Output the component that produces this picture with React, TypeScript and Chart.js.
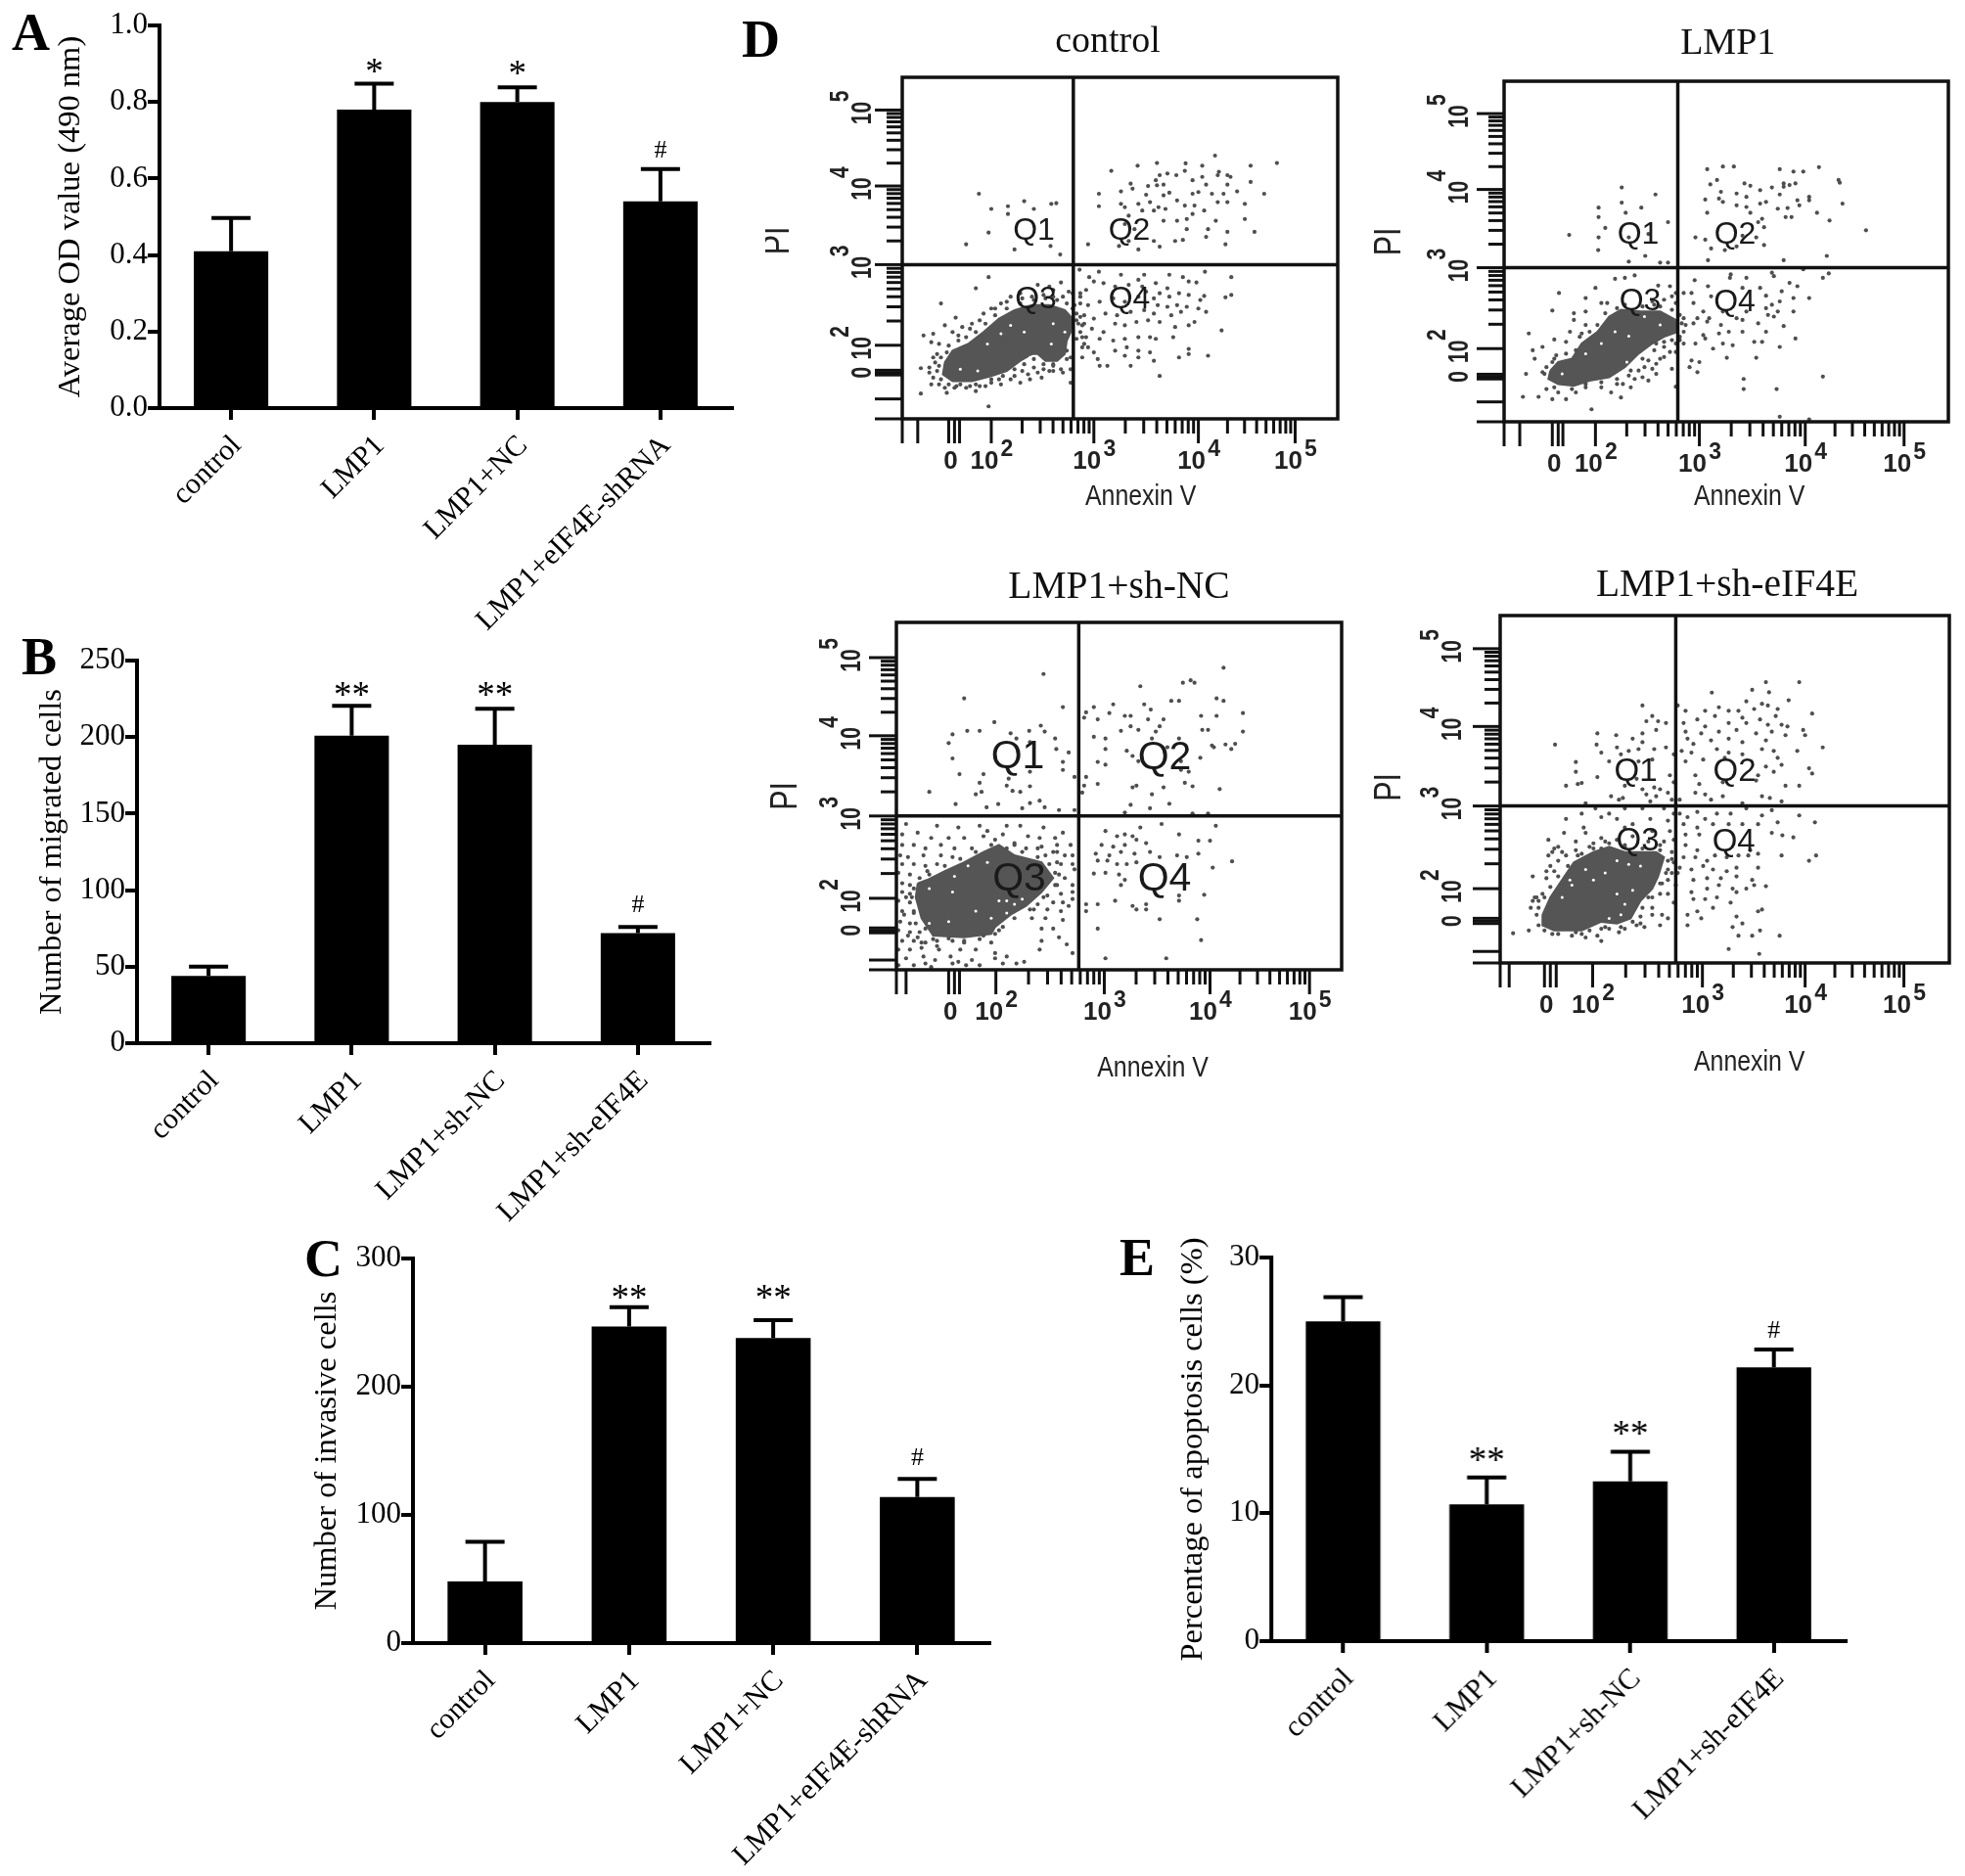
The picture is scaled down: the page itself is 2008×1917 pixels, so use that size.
import React, { useEffect, useRef } from "react";
import { Chart, registerables } from "chart.js";

Chart.register(...registerables);

const SERIF = "'Liberation Serif', serif";
const SANS = "'Liberation Sans', sans-serif";

// ---------- bar panels ----------
const labelsNC = ["control", "LMP1", "LMP1+NC", "LMP1+eIF4E-shRNA"];
const labelsSh = ["control", "LMP1", "LMP1+sh-NC", "LMP1+sh-eIF4E"];

const odValues = [0.41, 0.78, 0.8, 0.54];
const odErrTops = [0.497, 0.848, 0.838, 0.625];
const odMarks = ["", "*", "*", "#"];

const migratedValues = [44, 201, 195, 72];
const migratedErrTops = [50, 220.5, 218.5, 76];
const migratedMarks = ["", "**", "**", "#"];

const invasiveValues = [48, 247, 238, 114];
const invasiveErrTops = [79, 262, 252, 128];
const invasiveMarks = ["", "**", "**", "#"];

const apoptosisValues = [25, 10.7, 12.5, 21.4];
const apoptosisErrTops = [26.9, 12.8, 14.8, 22.8];
const apoptosisMarks = ["", "**", "**", "#"];

// ---------- flow panels: dots read in display channels of each plot ----------
const d1Sparse = [
  608,575,640,620,683,612,683,635,725,597,750,620,795,605,808,603,633,690,575,725,700,740,793,730,818,755,
  950,507,1018,492,1068,484,1142,485,1185,492,1218,462,1310,492,1378,484,1228,510,1250,520,1258,525,1225,520,1140,507,1118,520,1095,515,1075,520,1065,535,1160,535,1185,525,1310,540,1000,545,1045,552,1068,550,1085,548,1195,548,1250,548,1345,575,918,575,975,568,1005,560,1040,578,1085,580,1100,572,1160,575,1175,570,1210,575,1240,575,1275,568,918,612,975,605,985,615,1020,605,1050,600,1072,615,1090,620,1120,595,1140,610,1165,610,1190,625,1225,600,1250,600,1295,605,995,640,1030,625,1060,625,1085,655,1120,655,1145,650,1160,635,1220,655,1295,650,985,665,1010,680,1145,680,1200,680,1250,688,1320,688,1195,703,890,725,970,730,995,715,1020,740,1075,732,1115,715,1135,712,1245,725,1060,715,
  868,800,918,806,893,822,975,815,1035,815,1100,815,1135,822,1192,806,1260,822,1020,830,1065,840,1150,835,1170,838,1245,882,1260,875,1190,878,1150,875,1095,855,1100,880,1060,885,870,870,885,860,905,835,930,840,960,850,995,845,1030,850,1040,865,1075,870,1125,870,1180,890,870,900,890,905,920,895,955,885,985,895,1020,880,1070,905,1095,910,1120,905,1145,910,1175,915,880,935,905,945,935,930,965,935,1000,925,1035,920,1060,930,1105,935,1130,925,1165,955,1195,925,875,965,900,975,930,985,960,960,985,965,1015,955,1045,950,1075,955,1115,970,1150,965,1235,980,885,1000,920,1005,955,1010,985,1005,1020,1000,1050,1000,1065,1005,1110,1000,875,1030,905,1045,960,1040,990,1030,1020,1040,1050,1045,1125,1060,1150,1035,1150,1050,1200,1055,915,1065,920,1085,940,1085,985,1055,1000,1085,1020,1060,1060,1070,1075,1115,875,1060,
  510,900,465,995,490,990,485,1015,520,965,548,942,600,855,633,822,540,985,565,970,590,960,620,930,640,915,665,900,690,880,720,885,760,845,790,850,820,838,840,865,505,1020,500,1050,490,1060,458,1092,480,1105,485,1140,458,1167,525,1165,600,1160,633,1205,520,1150,550,1145,575,1150,610,1145,640,1135,660,1125,690,1125,715,1135,740,1125,770,1120,790,1100,820,1095,845,1135,845,1095,720,1100,750,1090,775,1095,800,1085,845,1060,860,1005,870,985,865,960,860,930,855,905,880,1020,800,880,825,880,
];
const d1Rim = [530,1025,555,1010,575,1000,600,985,625,960,650,935,680,915,715,900,750,890,780,885,810,890,835,900,850,915,525,1045,510,1060,505,1085,500,1100,510,1125,530,1140,560,1140,600,1140,640,1125,670,1115,700,1095,725,1080,750,1065,775,1080,800,1080,835,1065,835,1040,860,950,870,940,880,960,875,1000,890,1030,850,870,870,880,800,860,775,875,745,880,715,870,680,895,650,915,610,950,585,975,555,995,495,1075,480,1090,490,1120,505,1140,545,1150,585,1145,625,1145,665,1140,700,1115,735,1110,760,1105,800,1100,825,1105];
const d1Core = [520,1075,540,1040,580,1020,620,985,660,945,700,920,745,905,790,905,830,920,850,945,845,985,835,1010,830,1050,810,1070,780,1070,760,1050,745,1050,715,1070,680,1100,640,1115,590,1130,540,1130,515,1110,520,1075];
const d1Gaps = [630,1020,665,990,690,965,725,985,800,960,830,985,795,1020,740,1060,560,1095,605,1100];

const d2Sparse = [
  692,557,778,578,633,617,692,602,742,617,702,632,633,645,810,660,650,677,558,698,633,705,710,705,760,695,632,743,710,777,752,760,790,780,810,780,
  910,503,950,495,978,495,1095,503,1130,510,1155,510,1195,497,1245,535,1248,543,935,535,918,548,1005,545,1020,552,1045,565,1075,557,1105,545,1105,555,1135,545,1120,550,945,570,985,575,1010,585,940,590,905,593,950,600,985,610,1010,615,1045,605,1060,600,1095,578,1140,595,1170,585,1170,595,1255,605,1145,610,1090,620,1115,618,1110,645,1125,645,1190,632,1222,655,1020,632,1050,650,1040,660,1055,675,1315,684,910,632,880,705,905,712,1000,700,1035,705,1055,728,920,738,955,743,985,732,912,773,1215,760,1105,773,
  878,832,912,850,970,815,968,825,1010,825,1075,810,1080,820,1155,800,1205,825,1220,812,1120,840,1140,850,1000,855,1045,855,870,870,850,870,920,880,1060,878,1100,865,1130,885,1170,885,1095,895,1075,905,1130,925,1060,915,1090,925,875,900,900,925,885,945,915,945,950,925,985,945,1010,925,1065,935,1080,940,875,960,910,955,945,965,1000,950,1040,960,1105,968,900,995,940,990,965,985,1000,985,1060,985,1135,1005,905,1005,925,1035,950,1020,975,1025,1030,1015,1050,1015,1095,1030,960,1062,1035,1062,880,1020,850,1020,870,1070,890,1075,865,1090,885,1105,1003,1125,1003,1155,1087,1155,1205,1118,1095,1237,1170,1245,
  532,870,625,855,600,885,655,900,700,825,725,818,675,828,785,848,815,850,830,870,775,905,515,922,570,930,600,925,640,900,570,950,600,965,520,1008,455,990,490,1030,465,1040,470,1065,560,985,550,1015,590,990,448,1110,490,1105,515,1075,440,1178,480,1178,515,1185,550,1185,615,1215,500,1155,530,1165,575,1165,600,1150,640,1150,665,1165,690,1180,715,1150,725,1125,695,1140,760,1130,745,1120,780,1110,800,1060,830,1045,790,1065,760,1070,750,1090,820,1095,830,1148,780,1020,800,1030,840,1000,
];
const d2Rim = [525,1055,550,1050,575,1040,585,1000,610,985,630,965,650,930,680,915,700,905,745,910,790,910,820,920,840,935,845,960,850,985,840,1010,820,1010,800,1015,775,1040,745,1065,715,1100,680,1125,640,1135,600,1140,565,1155,520,1150,495,1110,500,1090,520,1065,820,880,800,890,770,895,830,900,850,945,855,965,830,1020,815,1045,780,1080,770,1095,735,1100,710,1115,680,1140];
const d2Core = [510,1100,530,1075,565,1065,590,1020,630,985,660,940,690,920,740,925,790,925,830,950,835,985,800,1000,770,1020,735,1050,700,1090,660,1120,610,1130,570,1145,530,1140,505,1125,510,1100];
const d2Gaps = [540,1110,600,1050,640,1020,675,985,710,998,750,940,790,965,705,1075];

const d3Sparse = [
  775,360,570,430,825,455,648,498,768,508,540,533,578,523,610,523,690,530,738,523,778,525,530,558,705,545,740,555,805,545,808,575,840,585,540,602,825,612,825,635,558,647,620,647,740,640,610,672,685,660,680,680,740,682,480,698,600,705,615,698,695,695,715,698,548,733,628,742,658,733,720,745,740,730,765,723,778,742,815,750,855,655,855,750,
  1240,342,1025,395,1135,385,1155,378,1165,385,1105,437,1125,437,1222,430,1240,437,955,447,1035,447,905,455,1052,462,885,470,880,485,945,472,985,480,1000,480,1045,490,1085,490,1290,472,915,490,1182,480,1222,480,1075,510,1000,510,975,523,1020,520,1290,525,905,540,935,545,1065,525,1185,520,1200,520,1125,545,1055,545,1270,560,1245,562,1260,575,1215,570,935,575,990,580,1005,595,1095,570,1180,600,1210,565,915,612,935,620,1020,610,1060,630,1130,610,1150,640,1130,635,885,655,880,680,915,675,1005,685,1015,680,1055,705,1085,685,1140,672,1160,682,1230,690,1000,735,1050,745,1100,732,985,757,1160,760,1200,760,875,700,
  935,810,965,825,985,820,1005,825,1025,800,1080,790,1125,820,1220,795,925,850,955,855,985,850,1015,835,1040,845,1175,838,1205,838,1175,875,910,875,945,880,975,870,1010,875,1050,870,1075,885,1120,880,1145,885,915,895,940,895,965,905,990,905,1015,900,1262,897,1212,915,905,932,935,930,970,935,985,950,975,965,1125,995,1190,993,885,1020,915,1020,960,1010,1005,1025,1040,1020,1040,1035,1015,1035,1125,1010,885,1040,915,1090,1075,1063,1172,1063,1182,1123,935,1175,1092,1175,
  420,790,500,795,555,800,610,795,630,810,680,795,715,795,775,800,410,820,450,815,485,830,530,830,570,830,620,825,670,820,735,825,765,830,805,830,825,815,410,850,440,850,470,860,510,850,545,860,590,860,700,850,730,860,770,855,810,850,845,850,405,880,425,885,465,880,510,880,540,885,780,880,810,870,850,880,410,905,440,905,470,910,500,905,810,900,850,905,400,930,430,935,475,925,805,930,830,945,855,920,410,960,430,965,810,965,850,965,410,985,430,990,785,995,820,990,850,985,400,1010,430,1015,760,1020,800,1015,825,1015,850,1005,410,1040,440,1045,750,1035,785,1035,820,1040,840,1025,405,1070,430,1075,470,1090,745,1060,780,1060,825,1065,400,1095,430,1100,500,1125,540,1125,620,1110,660,1095,770,1090,800,1090,410,1125,440,1125,470,1130,570,1130,640,1130,770,1125,815,1115,400,1150,430,1150,460,1145,505,1150,560,1150,600,1150,650,1160,680,1170,765,1150,835,1135,420,1175,465,1170,495,1180,535,1170,555,1185,590,1180,650,1175,725,1185,850,1160,400,1195,440,1195,470,1190,485,1200,540,1190,575,1195,610,1195,670,1190,705,1190,
];
const d3Rim = [440,975,435,1000,440,1040,445,1075,455,1100,490,1120,530,1118,570,1125,610,1120,650,1105,670,1085,700,1060,740,1035,775,1000,805,965,815,935,790,905,760,885,720,870,680,860,640,850,600,870,560,890,520,910,480,935,455,945,420,1000,415,1050,425,1110,450,1115,460,1130,500,1140,820,905,830,880,800,870,760,860,700,845,650,835];
const d3Core = [450,960,475,950,520,925,570,900,620,870,660,850,700,880,770,900,800,945,770,985,730,1025,690,1050,650,1085,640,1105,570,1115,490,1110,460,1060,445,1000,450,960];
const d3Gaps = [545,940,580,910,540,985,630,900,480,975,660,1010,680,1010,700,1020,720,1005,680,1045,640,1060,530,1070,480,1075,600,1040];

const d4Sparse = [
  522,562,745,450,770,480,755,495,785,495,805,500,630,530,678,535,720,545,745,530,780,520,628,562,745,555,680,570,710,580,735,575,775,575,805,570,640,585,660,610,690,590,575,612,735,610,770,605,825,590,575,640,580,675,550,680,590,672,630,655,700,680,730,660,745,690,775,685,790,690,815,650,825,670,665,710,685,720,695,715,755,705,780,710,810,700,820,720,765,725,
  1060,383,1145,383,922,413,1025,405,1068,412,1118,435,835,450,1010,438,1050,445,1065,450,940,455,905,465,965,465,990,465,1030,460,1090,460,855,465,885,490,930,480,1000,485,1045,490,1085,480,1178,473,850,500,905,510,965,500,1010,500,1065,505,1100,505,1115,510,855,525,860,545,895,530,940,525,985,520,1035,530,1075,525,1155,520,1160,535,875,560,920,550,965,545,1000,555,1060,550,1110,535,1205,570,845,580,870,585,935,575,965,585,1000,590,1050,575,1080,580,1140,580,855,610,900,605,955,600,1090,600,1100,620,1170,630,1178,645,880,650,1060,625,1040,650,1080,640,890,675,950,670,1035,665,1110,680,1145,680,905,705,950,710,1050,710,1070,715,880,700,1000,730,1100,725,840,720,920,720,
  840,760,860,770,885,755,905,775,935,760,970,760,1010,745,1050,765,1075,750,1145,765,1185,785,850,790,885,800,925,790,965,790,1000,790,1040,790,1090,785,855,820,890,820,1075,815,1130,828,1102,822,855,850,885,865,1020,865,1040,875,1100,880,1188,880,1170,895,850,885,880,885,910,895,930,880,960,885,990,880,1015,880,840,915,870,920,900,910,925,920,960,925,985,915,1040,915,875,950,910,945,945,945,985,940,1025,950,870,985,910,975,940,965,975,975,1060,968,1030,965,875,1005,905,1005,935,1000,985,985,1010,975,925,1030,970,1015,860,1050,885,1040,860,1080,985,1055,1000,1075,1040,1040,1050,1035,975,1085,990,1110,1025,1110,1045,1095,1095,1110,965,1148,1043,1162,895,1060,
  600,730,590,760,625,745,660,760,700,745,745,745,800,745,825,760,550,775,595,800,640,770,680,775,720,790,765,775,810,780,545,815,600,815,640,830,700,800,770,810,815,810,505,835,530,855,575,840,620,845,640,860,790,850,825,835,515,870,550,880,590,875,820,870,510,910,500,925,530,895,465,940,825,900,835,930,810,920,795,960,830,965,475,1000,465,1010,490,990,760,1000,810,990,825,1015,480,1030,740,1055,770,1050,795,1050,810,1060,415,1103,455,1095,515,1105,565,1110,590,1105,630,1110,640,1125,685,1100,730,1080,750,1085,790,1080,
];
const d4Rim = [480,1010,475,1050,480,1080,495,1095,530,1105,575,1100,610,1095,650,1085,690,1085,720,1070,745,1030,770,1000,790,960,805,930,810,895,790,865,745,860,700,855,660,845,620,860,580,880,555,910,530,940,510,970,495,1000,505,880,520,860,540,870,575,865,610,855,650,840,680,835,700,850,720,825,760,840,800,840,500,945,520,925,470,1000,460,1030,820,890,820,930,810,950,790,990,770,1030,740,1075,700,1090,660,1090,640,1090,600,1115];
const d4Core = [490,1050,510,1000,540,950,570,900,620,870,660,855,700,870,780,870,800,885,785,940,770,975,740,1010,715,1060,680,1075,640,1070,590,1095,520,1095,490,1080,490,1050];
const d4Gaps = [560,950,600,920,540,1000,620,950,680,895,710,905,740,910,700,1020,720,980,680,990,660,1060,690,1050,565,965,650,930];

const decadeLabels = ["2", "3", "4", "5"];
const quadrantNames = ["Q1", "Q2", "Q3", "Q4"];
// position of the log minor ticks inside one decade
const logMinor = [0.301, 0.477, 0.602, 0.699, 0.778, 0.845, 0.903, 0.954];

const pairs = (a: number[]) => {
  const out: { x: number; y: number }[] = [];
  for (let i = 0; i + 1 < a.length; i += 2) out.push({ x: a[i], y: a[i + 1] });
  return out;
};

type BarCfg = {
  labels: string[]; values: number[]; tops: number[]; marks: string[]; lifts: number[];
  max: number; step: number; digits: number; title: string;
  left: number; right: number; top: number; bottom: number; leftSpace: number; bottomSpace: number; tickPad: number;
};

const barPanels: BarCfg[] = [
  { labels: labelsNC, values: odValues, tops: odErrTops, marks: odMarks, lifts: [0, 18, 20, 20], max: 1, step: 0.2, digits: 1,
    title: "Average OD value (490 nm)", left: 163, right: 748, top: 26, bottom: 417, leftSpace: 110, bottomSpace: 240, tickPad: 9 },
  { labels: labelsSh, values: migratedValues, tops: migratedErrTops, marks: migratedMarks, lifts: [0, 17, 20, 24], max: 250, step: 50, digits: 0,
    title: "Number of migrated cells", left: 139.5, right: 724.5, top: 675, bottom: 1066, leftSpace: 106, bottomSpace: 200, tickPad: 9 },
  { labels: labelsNC, values: invasiveValues, tops: invasiveErrTops, marks: invasiveMarks, lifts: [0, 15, 28, 23], max: 300, step: 100, digits: 0,
    title: "Number of invasive cells", left: 422, right: 1011, top: 1286, bottom: 1679, leftSpace: 107, bottomSpace: 236, tickPad: 9 },
  { labels: labelsSh, values: apoptosisValues, tops: apoptosisErrTops, marks: apoptosisMarks, lifts: [0, 23, 24, 21], max: 30, step: 10, digits: 0,
    title: "Percentage of apoptosis cells (%)", left: 1299, right: 1885.5, top: 1285, bottom: 1677, leftSpace: 99, bottomSpace: 236, tickPad: 9 },
];

type FlowCfg = {
  title: string; titleSize: number; titlePos: [number, number];
  sparse: number[]; rim: number[]; core: number[]; gaps: number[];
  box: [number, number, number, number]; // page pixels L R T B
  xRange: [number, number]; yRange: [number, number];
  quad: [number, number];
  xMajor: number[]; yMajor: number[];
  xLong: number[]; xZero: number[]; yZero: number[]; yLong: number[];
  yGap: number; qSize: number; qPos: [number, number][];
  piPos: [number, number]; annexinPos: [number, number];
};

const flowPanels: FlowCfg[] = [
  { title: "control", titleSize: 38, titlePos: [1132, 43], sparse: d1Sparse, rim: d1Rim, core: d1Core, gaps: d1Gaps,
    box: [922, 1367, 79, 428], xRange: [410, 1535], yRange: [230, 1242], quad: [852, 785],
    xMajor: [640, 905, 1175, 1425], yMajor: [1024, 785, 552, 327], xLong: [450], xZero: [530, 545, 558], yZero: [1098, 1105, 1112], yLong: [1183],
    yGap: 32, qSize: 32, qPos: [[1056.5, 236], [1154, 236], [1058.5, 306], [1154, 306]], piPos: [795.6, 246], annexinPos: [1165.7, 508] },
  { title: "LMP1", titleSize: 38, titlePos: [1765.7, 45], sparse: d2Sparse, rim: d2Rim, core: d2Core, gaps: d2Gaps,
    box: [1537, 1991, 83, 431], xRange: [392, 1525], yRange: [242, 1252], quad: [835, 795],
    xMajor: [625, 890, 1160, 1412], yMajor: [1035, 795, 563, 338], xLong: [432], xZero: [515, 530, 542], yZero: [1111, 1118, 1125], yLong: [1193],
    yGap: 37, qSize: 32, qPos: [[1674, 240], [1773, 240], [1676, 308.5], [1772.5, 309]], piPos: [1421, 247], annexinPos: [1787.7, 508] },
  { title: "LMP1+sh-NC", titleSize: 39.5, titlePos: [1143.5, 600], sparse: d3Sparse, rim: d3Rim, core: d3Core, gaps: d3Gaps,
    box: [916, 1371, 635.7, 991.4], xRange: [395, 1545], yRange: [212, 1208], quad: [866, 767],
    xMajor: [652, 932, 1205, 1462], yMajor: [1003, 767, 537, 313], xLong: [420], xZero: [530, 545, 558], yZero: [1088, 1095, 1102], yLong: [1180],
    yGap: 37, qSize: 41, qPos: [[1040, 773.5], [1190, 774], [1041.5, 898], [1190, 898]], piPos: [803.5, 813], annexinPos: [1178, 1091] },
  { title: "LMP1+sh-eIF4E", titleSize: 39.5, titlePos: [1765, 598], sparse: d4Sparse, rim: d4Rim, core: d4Core, gaps: d4Gaps,
    box: [1533, 1992, 628.6, 984], xRange: [382, 1528], yRange: [192, 1188], quad: [830, 738],
    xMajor: [618, 898, 1160, 1412], yMajor: [975, 738, 510, 287], xLong: [405], xZero: [495, 510, 525], yZero: [1060, 1068, 1075], yLong: [1155],
    yGap: 40, qSize: 33, qPos: [[1671.6, 789], [1772.5, 789], [1673.6, 860], [1771.7, 861]], piPos: [1421, 804], annexinPos: [1787.7, 1085] },
];

const panelLetters: [string, number, number][] = [
  ["A", 12, 6], ["B", 22, 644], ["C", 311, 1259], ["D", 758, 13], ["E", 1144, 1258],
];

function BarPanel({ cfg }: { cfg: BarCfg }) {
  const ref = useRef<HTMLCanvasElement>(null);
  const topSpace = 30;
  const rightSpace = 4;
  const width = cfg.leftSpace + (cfg.right - cfg.left) + rightSpace;
  const height = topSpace + (cfg.bottom - cfg.top) + cfg.bottomSpace;
  useEffect(() => {
    const errorPlugin = {
      id: "errorBars",
      afterDatasetsDraw(chart: any) {
        const { ctx, scales } = chart;
        const meta = chart.getDatasetMeta(0);
        ctx.save();
        ctx.strokeStyle = "#000";
        ctx.fillStyle = "#000";
        ctx.lineWidth = 4;
        meta.data.forEach((bar: any, i: number) => {
          const x = bar.x;
          const y0 = scales.y.getPixelForValue(cfg.values[i]);
          const y1 = scales.y.getPixelForValue(cfg.tops[i]);
          ctx.beginPath();
          ctx.moveTo(x, y0);
          ctx.lineTo(x, y1);
          ctx.moveTo(x - 20, y1);
          ctx.lineTo(x + 20, y1);
          ctx.stroke();
          const m = cfg.marks[i];
          if (m) {
            const star = m[0] === "*";
            const size = star ? 37 : 26;
            ctx.font = `${size}px ${SERIF}`;
            ctx.textAlign = "center";
            ctx.textBaseline = "alphabetic";
            ctx.fillText(m, x, y1 - cfg.lifts[i] + (star ? 0.47 : 0.33) * size);
          }
        });
        ctx.restore();
      },
    };
    const chart = new Chart(ref.current!, {
      type: "bar",
      data: {
        labels: cfg.labels,
        datasets: [{ data: cfg.values, backgroundColor: "#000", barPercentage: 0.52, categoryPercentage: 1, borderWidth: 0 }],
      },
      plugins: [errorPlugin],
      options: {
        responsive: false,
        animation: false,
        layout: { padding: { top: topSpace, right: rightSpace, left: 0, bottom: 0 } },
        plugins: { legend: { display: false }, tooltip: { enabled: false }, title: { display: false } },
        scales: {
          x: {
            grid: { offset: false, drawOnChartArea: false, tickLength: 12, tickWidth: 4, tickColor: "#000", lineWidth: 4 },
            border: { color: "#000", width: 4 },
            ticks: { color: "#000", font: { family: SERIF, size: 30 }, minRotation: 45, maxRotation: 45, padding: cfg.tickPad, labelOffset: 6, autoSkip: false },
            afterFit: (s: any) => { s.height = cfg.bottomSpace; },
          },
          y: {
            min: 0,
            max: cfg.max,
            grid: { drawOnChartArea: false, tickLength: 12, tickWidth: 4, tickColor: "#000", lineWidth: 4 },
            border: { color: "#000", width: 4 },
            ticks: { color: "#000", stepSize: cfg.step, padding: 0, font: { family: SERIF, size: 31 }, callback: (v: any) => Number(v).toFixed(cfg.digits) },
            title: { display: true, text: cfg.title, color: "#000", font: { family: SERIF, size: 32.5 }, padding: 0 },
            afterFit: (s: any) => { s.width = cfg.leftSpace; },
          },
        },
      },
    } as any);
    return () => chart.destroy();
  }, []);
  return (
    <canvas
      ref={ref}
      width={width}
      height={height}
      style={{ position: "absolute", left: cfg.left - cfg.leftSpace, top: cfg.top - topSpace, width, height }}
    />
  );
}

function FlowPanel({ cfg }: { cfg: FlowCfg }) {
  const ref = useRef<HTMLCanvasElement>(null);
  const pad = { left: 140, top: 75, right: 12, bottom: 122 };
  const [L, R, T, B] = cfg.box;
  const ox = L - pad.left;
  const oy = T - pad.top;
  const width = pad.left + (R - L) + pad.right;
  const height = pad.top + (B - T) + pad.bottom;
  useEffect(() => {
    const decor = {
      id: "flowDecor",
      afterDatasetsDraw(chart: any) {
        const { ctx, scales, chartArea: a } = chart;
        const xs = scales.x;
        const ys = scales.y;
        const line = (x1: number, y1: number, x2: number, y2: number) => {
          ctx.beginPath();
          ctx.moveTo(x1, y1);
          ctx.lineTo(x2, y2);
          ctx.stroke();
        };
        ctx.save();
        ctx.strokeStyle = "#111";
        ctx.fillStyle = "#222";
        ctx.lineWidth = 3.5;
        ctx.strokeRect(a.left, a.top, a.right - a.left, a.bottom - a.top);
        const qx = xs.getPixelForValue(cfg.quad[0]);
        const qy = ys.getPixelForValue(cfg.quad[1]);
        line(qx, a.top, qx, a.bottom);
        line(a.left, qy, a.right, qy);

        ctx.lineWidth = 3;
        const xTick = (v: number, len: number) => {
          const p = xs.getPixelForValue(v);
          line(p, a.bottom, p, a.bottom + len);
        };
        const yTick = (v: number, len: number) => {
          const p = ys.getPixelForValue(v);
          line(a.left - len, p, a.left, p);
        };
        xTick(cfg.xRange[0], 25);
        yTick(cfg.yRange[1], 28);
        cfg.xLong.forEach((v) => xTick(v, 25));
        cfg.xZero.forEach((v) => xTick(v, 25));
        cfg.yZero.forEach((v) => yTick(v, 28));
        cfg.yLong.forEach((v) => yTick(v, 28));
        cfg.xMajor.forEach((v, i) => {
          xTick(v, 25);
          if (i < cfg.xMajor.length - 1) {
            const next = cfg.xMajor[i + 1];
            logMinor.forEach((f) => xTick(v + (next - v) * f, 15));
          }
        });
        cfg.yMajor.forEach((v, i) => {
          yTick(v, 28);
          if (i < cfg.yMajor.length - 1) {
            const next = cfg.yMajor[i + 1];
            logMinor.forEach((f) => yTick(v + (next - v) * f, 16));
          }
        });

        // printed axis numbers
        ctx.textAlign = "center";
        ctx.textBaseline = "alphabetic";
        const big = `bold 26px ${SANS}`;
        const small = `bold 23px ${SANS}`;
        ctx.font = big;
        ctx.fillText("0", xs.getPixelForValue(cfg.xZero[1]) - 4, a.bottom + 51);
        cfg.xMajor.forEach((v, i) => {
          const p = xs.getPixelForValue(v);
          ctx.font = big;
          ctx.fillText("10", p - 7, a.bottom + 51);
          ctx.font = small;
          ctx.fillText(decadeLabels[i], p + 16, a.bottom + 38);
        });
        const rotated = (s: string, x: number, y: number, font: string, along: number) => {
          ctx.save();
          ctx.translate(x, y);
          ctx.rotate(-Math.PI / 2);
          ctx.scale(along, 1);
          ctx.font = font;
          ctx.fillText(s, 0, 0);
          ctx.restore();
        };
        const tallBig = `bold 30px ${SANS}`;
        const tallSmall = `bold 28px ${SANS}`;
        rotated("0", a.left - cfg.yGap, ys.getPixelForValue(cfg.yZero[1]), tallBig, 0.7);
        cfg.yMajor.forEach((v, i) => {
          const p = ys.getPixelForValue(v);
          rotated("10", a.left - cfg.yGap, p + 3, tallBig, 0.7);
          rotated(decadeLabels[i], a.left - cfg.yGap - 23, p - 14, tallSmall, 0.75);
        });

        // axis names, title, quadrant names
        ctx.textBaseline = "middle";
        ctx.save();
        ctx.translate(cfg.annexinPos[0] - ox, cfg.annexinPos[1] - oy);
        ctx.scale(0.83, 1);
        ctx.font = `30px ${SANS}`;
        ctx.fillText("Annexin V", 0, 0);
        ctx.restore();
        rotated("PI", cfg.piPos[0] - ox, cfg.piPos[1] - oy, `38px ${SANS}`, 0.8);
        ctx.fillStyle = "#111";
        ctx.font = `${cfg.titleSize}px ${SERIF}`;
        ctx.fillText(cfg.title, cfg.titlePos[0] - ox, cfg.titlePos[1] - oy);
        ctx.font = `${cfg.qSize}px ${SANS}`;
        ctx.fillStyle = "#1a1a1a";
        cfg.qPos.forEach((q, i) => ctx.fillText(quadrantNames[i], q[0] - ox, q[1] - oy));
        ctx.restore();
      },
    };
    const chart = new Chart(ref.current!, {
      type: "scatter",
      data: {
        datasets: [
          { data: pairs(cfg.gaps), order: 0, backgroundColor: "#fff", pointRadius: 1.5, pointBorderWidth: 0, showLine: false },
          { data: pairs(cfg.sparse), order: 1, backgroundColor: "#4f4f4f", pointRadius: 2.1, pointBorderWidth: 0, showLine: false },
          { data: pairs(cfg.rim), order: 1, backgroundColor: "#4f4f4f", pointRadius: 2.1, pointBorderWidth: 0, showLine: false },
          { data: pairs(cfg.core), order: 2, showLine: true, tension: 0, fill: "shape", borderColor: "#555", borderWidth: 2, backgroundColor: "#555", pointRadius: 0 },
        ],
      },
      plugins: [decor],
      options: {
        responsive: false,
        animation: false,
        layout: { padding: pad },
        plugins: { legend: { display: false }, tooltip: { enabled: false }, title: { display: false } },
        scales: {
          x: { type: "linear", display: false, min: cfg.xRange[0], max: cfg.xRange[1] },
          y: { type: "linear", display: false, reverse: true, min: cfg.yRange[0], max: cfg.yRange[1] },
        },
      },
    } as any);
    return () => chart.destroy();
  }, []);
  return (
    <canvas
      ref={ref}
      width={width}
      height={height}
      style={{ position: "absolute", left: ox, top: oy, width, height }}
    />
  );
}

export default function App() {
  return (
    <div style={{ position: "absolute", left: 0, top: 0, width: 2008, height: 1917, background: "#fff", overflow: "hidden" }}>
      {barPanels.map((c, i) => <BarPanel key={i} cfg={c} />)}
      {flowPanels.map((c, i) => <FlowPanel key={i} cfg={c} />)}
      {panelLetters.map(([s, x, y]) => (
        <span key={s} style={{ position: "absolute", left: x, top: y, font: `bold 54px/1 ${SERIF}`, color: "#000" }}>{s}</span>
      ))}
    </div>
  );
}
